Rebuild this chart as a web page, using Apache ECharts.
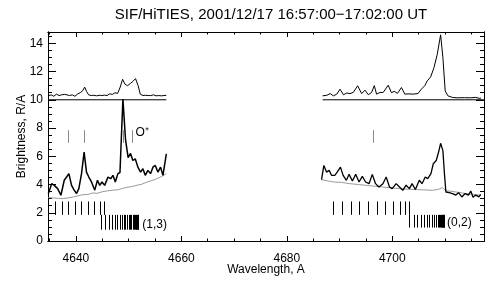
<!DOCTYPE html>
<html><head><meta charset="utf-8">
<script src="https://cdn.jsdelivr.net/npm/echarts@6.0.0/dist/echarts.min.js"></script>
<style>html,body{margin:0;padding:0;background:#fff}#c{width:489px;height:282px}</style>
</head><body><div id="c"></div>
<script>
// ---------- axis ranges / tick labels ----------
const X_MIN = 4634.7, X_MAX = 4717.4;
const Y_MIN = 0, Y_MAX = 14.8;
const X_MAJOR = [4640, 4660, 4680, 4700];
const X_MINOR = [4635, 4645, 4650, 4655, 4665, 4670, 4675, 4685, 4690, 4695, 4705, 4710, 4715];
const Y_MAJOR = [0, 2, 4, 6, 8, 10, 12, 14];
const Y_MINOR = [0.5,1,1.5,2.5,3,3.5,4.5,5,5.5,6.5,7,7.5,8.5,9,9.5,10.5,11,11.5,12.5,13,13.5,14.5];

// ---------- upper spectra (offset by 10) ----------
const upL_wl = [4634.76,4635.3,4635.8,4636.3,4636.8,4637.3,4637.8,4638.3,4638.8,4639.3,4639.8,4640.3,4640.8,4641.3,4641.65,4642.0,4642.4,4642.9,4643.4,4643.9,4644.4,4644.9,4645.4,4645.9,4646.4,4646.9,4647.4,4647.9,4648.4,4648.85,4649.3,4649.8,4650.3,4650.8,4651.3,4651.8,4652.2,4652.7,4653.2,4653.7,4654.2,4654.7,4655.2,4655.7,4656.2,4656.7,4657.15];
const upL_val = [10.28,10.35,10.25,10.4,10.3,10.35,10.38,10.35,10.3,10.35,10.25,10.4,10.5,10.65,10.9,10.6,10.35,10.3,10.32,10.28,10.32,10.3,10.33,10.3,10.42,10.38,10.5,10.45,10.9,11.45,11.1,11.0,11.15,11.3,11.5,11.0,10.4,10.3,10.32,10.3,10.3,10.35,10.28,10.3,10.28,10.3,10.32];
const upR_wl = [4686.78,4687.6,4688.23,4688.85,4689.47,4690.1,4690.74,4691.36,4691.98,4692.6,4693.44,4694.19,4694.83,4695.45,4696.08,4696.59,4697.02,4697.66,4698.28,4699.23,4699.85,4700.36,4700.98,4701.74,4702.38,4703.0,4703.95,4704.89,4705.51,4706.15,4706.64,4707.28,4707.91,4708.53,4709.17,4709.6,4710.04,4710.55,4711.49,4712.44,4713.7,4714.89,4715.83,4716.5,4716.83];
const upR_val = [10.28,10.32,10.44,10.28,10.4,10.75,10.35,10.48,10.44,10.52,10.99,10.44,10.68,10.36,10.52,11.0,10.4,10.52,10.52,11.03,10.5,10.6,10.45,10.87,10.4,10.42,10.4,10.44,10.75,10.99,11.34,11.62,12.27,13.22,14.6,13.0,10.63,10.28,10.16,10.14,10.15,10.14,10.17,10.1,10.12];
const baseL_wl = [4634.76, 4657.15];
const baseR_wl = [4686.78, 4717.4];
const BASE_LEVEL = 10;

// ---------- lower spectra ----------
const lowL_wl = [4634.76,4635.40,4635.89,4636.53,4637.15,4637.78,4638.23,4638.66,4639.17,4639.66,4640.12,4640.55,4641.06,4641.55,4642.00,4642.44,4642.95,4643.57,4644.08,4644.51,4644.95,4645.45,4646.08,4646.59,4647.02,4647.47,4647.96,4648.35,4648.91,4649.40,4649.90,4650.35,4650.80,4651.25,4651.75,4652.25,4652.70,4653.15,4653.65,4654.15,4654.60,4655.05,4655.55,4656.05,4656.50,4656.85,4657.15];
const lowL_val = [3.36,4.06,3.94,3.71,3.24,4.30,4.53,4.77,3.94,3.60,3.36,3.71,4.77,6.29,4.88,4.53,4.18,3.60,4.30,3.94,4.18,3.94,4.53,4.41,4.65,4.18,4.77,4.85,10.05,7.2,5.9,6.2,5.7,5.82,5.23,4.88,5.12,4.65,5.0,4.77,5.23,5.35,4.88,5.23,4.65,4.77,6.17];
const lowR_wl = [4686.59,4687.02,4687.53,4688.04,4688.47,4689.1,4689.55,4690.17,4690.68,4691.3,4691.81,4692.44,4693.06,4693.7,4694.32,4694.95,4695.59,4696.21,4696.83,4697.47,4698.23,4698.85,4699.47,4699.98,4700.74,4701.36,4702.0,4702.62,4703.25,4703.76,4704.38,4705.13,4705.64,4706.26,4706.72,4707.34,4707.78,4708.34,4708.79,4709.17,4709.6,4709.89,4710.17,4710.8,4711.43,4712.06,4712.57,4713.19,4713.82,4714.46,4714.89,4715.32,4715.83,4716.45,4716.77];
const lowR_val = [4.34,5.35,4.88,5.0,4.65,4.65,4.88,5.23,4.65,4.3,4.72,4.25,4.72,4.18,4.58,4.18,4.06,4.72,4.06,3.82,4.06,4.53,3.82,3.71,4.06,3.82,3.59,3.95,3.71,4.06,3.65,4.30,4.06,4.53,4.42,4.77,5.47,5.7,6.3,6.92,6.4,4.8,3.47,3.42,3.36,3.25,3.42,3.12,3.36,3.25,3.54,3.1,3.25,3.12,3.3];
const grayL_wl = [4634.76,4635.7,4636.7,4637.6,4638.5,4639.5,4640.4,4641.3,4642.3,4643.2,4644.1,4645.1,4646.0,4646.9,4647.9,4648.8,4649.7,4650.7,4651.6,4652.5,4653.5,4654.4,4655.3,4656.3,4657.15];
const grayL_val = [3.08,3.05,3.02,3.0,3.05,3.12,3.2,3.28,3.3,3.4,3.38,3.5,3.55,3.6,3.62,3.72,3.8,3.86,3.95,4.02,4.18,4.28,4.4,4.58,4.77];
const grayR_wl = [4686.59,4688.8,4690.4,4691.93,4693.57,4695.08,4696.6,4698.23,4699.8,4701.36,4703.0,4704.5,4706.0,4707.66,4708.66,4709.55,4710.17,4710.8,4712.44,4713.95,4715.46,4716.77];
const grayR_val = [4.34,4.18,4.15,4.06,4.0,3.94,3.88,3.82,3.76,3.71,3.66,3.64,3.62,3.59,3.65,3.78,3.55,3.54,3.45,3.36,3.3,3.24];

// ---------- line markers ----------
const oplus_wl = [4638.5, 4641.55, 4648.9, 4650.6, 4696.4];
const OPLUS_Y = [6.95, 7.85];
const band13_far_wl = [4634.79,4636.03,4637.30,4638.50,4639.73,4640.96,4642.23,4643.49,4644.57,4645.38];
const band13_near_wl = [4644.76,4645.52,4646.18,4646.75,4647.32,4647.79,4648.27,4648.65,4649.03,4649.37,4649.69,4649.99,4650.26,4650.51,4650.73,4650.94,4651.13,4651.30,4651.46,4651.59,4651.72,4651.83];
const band02_far_wl = [4688.72,4690.43,4692.14,4693.77,4695.48,4697.07,4698.65,4700.22,4701.49,4702.44,4703.26];
const band02_near_wl = [4703.26,4704.15,4704.77,4705.42,4706.05,4706.56,4707.05,4707.5,4707.94,4708.32,4708.64,4708.95,4709.1,4709.21,4709.35,4709.46,4709.58,4709.71,4709.8,4709.9];
const FAR_Y = [1.85, 2.8];
const NEAR13_Y = [0.8, 1.85];
const NEAR02_Y = [0.95, 1.85];

// ---------- annotations ----------
const labels = [
  {wl: 4651.3, y: 7.7, text: 'O\u207A'},
  {wl: 4652.6, y: 1.15, text: '(1,3)'},
  {wl: 4710.4, y: 1.28, text: '(0,2)'}
];
const TITLE = 'SIF/HiTIES, 2001/12/17 16:57:00\u221217:02:00 UT';

// ---------- build ----------
const FONT = "'Liberation Sans', Arial, sans-serif";
const zip = (a, b) => a.map((v, i) => [v, b[i]]);
const line = (data, color, width) => ({
  type: 'line', data, symbol: 'none', silent: true, animation: false,
  lineStyle: { color, width }, xAxisIndex: 0, yAxisIndex: 0, clip: true
});
const ticks = (wls, yr, color) => ({
  type: 'custom', silent: true, animation: false, xAxisIndex: 0, yAxisIndex: 0,
  data: wls.map(w => [w, yr[0], yr[1]]),
  renderItem: (p, api) => {
    const a = api.coord([api.value(0), api.value(1)]);
    const b = api.coord([api.value(0), api.value(2)]);
    const x = Math.round(a[0]) + 0.5;
    return { type: 'line', shape: { x1: x, y1: a[1], x2: x, y2: b[1] }, style: { stroke: color, lineWidth: 1 } };
  }
});
const texts = {
  type: 'custom', silent: true, animation: false, xAxisIndex: 0, yAxisIndex: 0,
  data: labels.map(l => [l.wl, l.y]),
  renderItem: (p, api) => {
    const c = api.coord([api.value(0), api.value(1)]);
    return { type: 'text', x: c[0], y: c[1],
      style: { text: labels[p.dataIndex].text, fill: '#000', font: '12px ' + FONT, align: 'left', verticalAlign: 'middle' } };
  }
};

const plain = v => String(v);
const xAx = (pos, vals, len, showLabel) => ({
  type: 'value', position: pos, min: X_MIN, max: X_MAX, gridIndex: 0,
  axisLine: { show: true, onZero: false, lineStyle: { color: '#000', width: 1 } },
  axisTick: { show: true, inside: true, length: len, customValues: vals, lineStyle: { color: '#000' } },
  axisLabel: { show: showLabel, customValues: vals, formatter: plain, color: '#000', fontSize: 12, fontFamily: FONT, margin: 12 },
  splitLine: { show: false }
});
const yAx = (pos, vals, len, showLabel) => ({
  type: 'value', position: pos, min: Y_MIN, max: Y_MAX, gridIndex: 0,
  axisLine: { show: true, onZero: false, lineStyle: { color: '#000', width: 1 } },
  axisTick: { show: true, inside: true, length: len, customValues: vals, lineStyle: { color: '#000' } },
  axisLabel: { show: showLabel, customValues: vals, formatter: plain, color: '#000', fontSize: 12, fontFamily: FONT, margin: 5 },
  splitLine: { show: false }
});

const xAxes = [xAx('bottom', X_MAJOR, 5, true), xAx('bottom', X_MINOR, 2.5, false), xAx('top', X_MAJOR, 5, false), xAx('top', X_MINOR, 2.5, false)];
Object.assign(xAxes[0], { name: 'Wavelength, A', nameLocation: 'middle', nameGap: 23, nameMoveOverlap: false,
  nameTextStyle: { color: '#000', fontSize: 12, fontFamily: FONT } });
const yAxes = [yAx('left', Y_MAJOR, 8, true), yAx('left', Y_MINOR, 4, false), yAx('right', Y_MAJOR, 8, false), yAx('right', Y_MINOR, 4, false)];
Object.assign(yAxes[0], { name: 'Brightness, R/A', nameLocation: 'middle', nameGap: 20, nameRotate: 90, nameMoveOverlap: false,
  nameTextStyle: { color: '#000', fontSize: 12, fontFamily: FONT } });

const chart = echarts.init(document.getElementById('c'), null, { renderer: 'canvas' });
chart.setOption({
  animation: false,
  backgroundColor: '#fff',
  grid: { left: 48, right: 5, top: 32, bottom: 41, containLabel: false },
  graphic: [{ type: 'text', x: 271, y: 15,
    style: { text: TITLE, fill: '#000', font: '15px ' + FONT, align: 'center', verticalAlign: 'middle' } }],
  xAxis: xAxes,
  yAxis: yAxes,
  series: [
    line(zip(baseL_wl, baseL_wl.map(() => BASE_LEVEL)), '#000', 1),
    line(zip(baseR_wl, baseR_wl.map(() => BASE_LEVEL)), '#000', 1),
    line(zip(upL_wl, upL_val), '#000', 1),
    line(zip(upR_wl, upR_val), '#000', 1),
    line(zip(grayL_wl, grayL_val), '#999', 1),
    line(zip(grayR_wl, grayR_val), '#999', 1),
    line(zip(lowL_wl, lowL_val), '#000', 1.5),
    line(zip(lowR_wl, lowR_val), '#000', 1.3),
    ticks(oplus_wl, OPLUS_Y, '#888'),
    ticks(band13_far_wl, FAR_Y, '#000'),
    ticks(band13_near_wl, NEAR13_Y, '#000'),
    ticks(band02_far_wl, FAR_Y, '#000'),
    ticks(band02_near_wl, NEAR02_Y, '#000'),
    texts
  ]
});
</script></body></html>
